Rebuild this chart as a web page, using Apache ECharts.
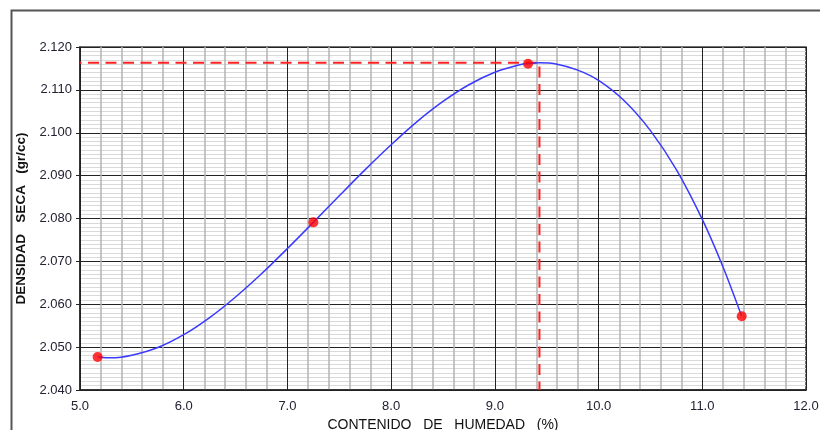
<!DOCTYPE html>
<html>
<head>
<meta charset="utf-8">
<script src="https://cdn.jsdelivr.net/npm/echarts@6/dist/echarts.min.js"></script>
<style>
html,body{margin:0;padding:0;background:#fff;}
#chart{width:820px;height:430px;}
</style>
</head>
<body>
<div id="chart"></div>
<script>
// Measured points
const pointX = [5.17, 7.25, 9.32, 11.38];
const pointY = [2.0477, 2.0791, 2.1161, 2.0572];

// Fitted curve
const curveX = [5.17, 5.3, 5.5, 5.75, 6.0, 6.25, 6.5, 6.75, 7.0, 7.25, 7.5, 7.75, 8.0, 8.25, 8.5, 8.75, 9.0, 9.25, 9.32, 9.43, 9.6, 9.8, 10.0, 10.25, 10.5, 10.75, 11.0, 11.2, 11.38];
const curveY = [2.0477, 2.0475, 2.0481, 2.0499, 2.0529, 2.0569, 2.0617, 2.0671, 2.0730, 2.0791, 2.0853, 2.0914, 2.0972, 2.1026, 2.1073, 2.1112, 2.1141, 2.1159, 2.1161, 2.1163, 2.1160, 2.1146, 2.1122, 2.1074, 2.1005, 2.0914, 2.0798, 2.0687, 2.0572];

// Optimum (maximum dry density)
const optX = [5.0, 9.43, 9.43];
const optY = [2.1163, 2.1163, 2.040];

// Axis ticks
const xTicks = ['5.0','6.0','7.0','8.0','9.0','10.0','11.0','12.0'];
const yTicks = ['2.040','2.050','2.060','2.070','2.080','2.090','2.100','2.110','2.120'];

const zip = (a, b) => a.map((v, i) => [v, b[i]]);

const chart = echarts.init(document.getElementById('chart'), null, {renderer: 'canvas'});
chart.setOption({
  animation: false,
  backgroundColor: '#fff',
  graphic: [{
    type: 'rect', left: 9, top: 8, shape: {width: 830, height: 440},
    style: {fill: 'none', stroke: '#555', lineWidth: 2}, silent: true
  }],
  grid: {left: 80, right: 14, top: 47, bottom: 40, outerBoundsMode: 'none', containLabel: false,
    show: true, borderColor: '#444', borderWidth: 1.5, backgroundColor: 'transparent'},
  xAxis: {
    type: 'value', min: 5, max: 12, interval: 1,
    name: 'CONTENIDO   DE   HUMEDAD   (%)', nameLocation: 'middle', nameGap: 23,
    nameTextStyle: {fontFamily: 'Liberation Sans', fontSize: 14, color: '#111'},
    axisLine: {show: true, lineStyle: {color: '#222', width: 1.5}},
    axisTick: {show: false},
    axisLabel: {fontFamily: 'Liberation Sans', fontSize: 13, color: '#223', margin: 10,
      formatter: v => xTicks[Math.round(v - 5)]},
    splitLine: {show: true, lineStyle: {color: '#222', width: 1}},
    minorTick: {show: false, splitNumber: 5},
    minorSplitLine: {show: true, lineStyle: {color: '#b4b4b4', width: 1.5}}
  },
  yAxis: {
    type: 'value', min: 2.04, max: 2.12, interval: 0.01,
    name: 'DENSIDAD   SECA   (gr/cc)', nameLocation: 'middle', nameGap: 48, nameRotate: 90,
    nameTextStyle: {fontFamily: 'Liberation Sans', fontSize: 13.5, fontWeight: 'bold', color: '#111'},
    axisLine: {show: true, lineStyle: {color: '#222', width: 1.5}},
    axisTick: {show: true, length: 4, lineStyle: {color: '#222'}},
    axisLabel: {fontFamily: 'Liberation Sans', fontSize: 13, color: '#223', margin: 8,
      formatter: v => yTicks[Math.round((v - 2.04) * 100)]},
    splitLine: {show: true, lineStyle: {color: '#222', width: 1}},
    minorTick: {show: false, splitNumber: 10},
    minorSplitLine: {show: true, lineStyle: {color: '#dadada', width: 1}}
  },
  series: [
    {
      type: 'line', data: zip(optX, optY), symbol: 'none', z: 3,
      lineStyle: {color: '#ff2222', width: 2, type: [11, 6.5], dashOffset: 9.5}
    },
    {
      type: 'line', data: zip(curveX, curveY), symbol: 'none', smooth: 0.3, z: 4,
      lineStyle: {color: '#3a3aff', width: 1.5}
    },
    {
      type: 'scatter', data: zip(pointX, pointY), symbol: 'circle', symbolSize: 10, z: 5,
      itemStyle: {color: '#ff0000'}
    }
  ]
});
</script>
</body>
</html>
